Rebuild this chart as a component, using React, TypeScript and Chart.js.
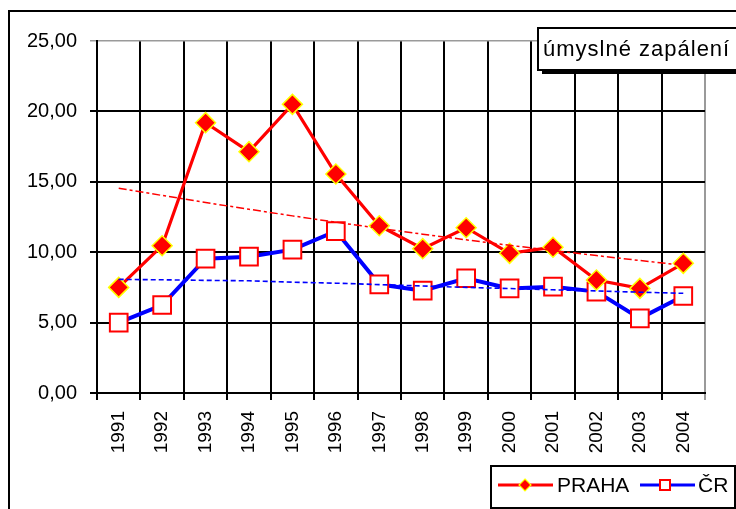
import React, { useEffect, useRef } from 'react';
import { Chart, registerables } from 'chart.js';

Chart.register(...registerables);

const years = ['1991', '1992', '1993', '1994', '1995', '1996', '1997', '1998', '1999', '2000', '2001', '2002', '2003', '2004'];
const prahaValues = [7.5, 10.46, 19.2, 17.14, 20.5, 15.55, 11.88, 10.25, 11.74, 9.92, 10.35, 8.02, 7.43, 9.21];
const crValues = [5.0, 6.25, 9.54, 9.68, 10.18, 11.5, 7.72, 7.27, 8.15, 7.43, 7.55, 7.2, 5.3, 6.89];
const prahaTrend = [14.55, 14.03, 13.53, 13.05, 12.58, 12.13, 11.7, 11.28, 10.88, 10.49, 10.12, 9.76, 9.41, 9.07];
const crTrend = [8.07, 8.04, 8.0, 7.97, 7.87, 7.8, 7.7, 7.6, 7.5, 7.42, 7.33, 7.25, 7.16, 7.08];
const yMin = 0;
const yMax = 25;
const yStep = 5;
const titleText = 'úmyslné zapálení';
const seriesNames = ['PRAHA', 'ČR'];

const FONT = '"Liberation Sans", Arial, sans-serif';

const decorPlugin = {
  id: 'decor',
  afterDraw(chart: any) {
    const ctx = chart.ctx as CanvasRenderingContext2D;
    ctx.save();
    // outer chart border
    ctx.strokeStyle = '#000';
    ctx.lineWidth = 2;
    ctx.strokeRect(9, 11, 800, 600);

    // title box with shadow
    const tx = 538, ty = 28, tw = 210, th = 42;
    ctx.fillStyle = '#000';
    ctx.fillRect(tx + 4, ty + 4, tw, th);
    ctx.fillStyle = '#fff';
    ctx.fillRect(tx, ty, tw, th);
    ctx.lineWidth = 2;
    ctx.strokeStyle = '#000';
    ctx.strokeRect(tx, ty, tw, th);
    ctx.fillStyle = '#000';
    ctx.font = `22px ${FONT}`;
    (ctx as any).letterSpacing = '1px';
    ctx.textBaseline = 'middle';
    ctx.textAlign = 'left';
    ctx.fillText(titleText, 543, ty + th / 2 + 1);
    (ctx as any).letterSpacing = '0px';

    // legend box
    const lx = 491, ly = 466, lw = 244, lh = 42;
    ctx.fillStyle = '#fff';
    ctx.fillRect(lx, ly, lw, lh);
    ctx.lineWidth = 2;
    ctx.strokeStyle = '#000';
    ctx.strokeRect(lx, ly, lw, lh);
    const cy = 485;
    // PRAHA entry
    ctx.strokeStyle = '#ff0000';
    ctx.lineWidth = 3;
    ctx.beginPath();
    ctx.moveTo(498, cy);
    ctx.lineTo(553, cy);
    ctx.stroke();
    ctx.beginPath();
    ctx.moveTo(525, cy - 6);
    ctx.lineTo(531, cy);
    ctx.lineTo(525, cy + 6);
    ctx.lineTo(519, cy);
    ctx.closePath();
    ctx.fillStyle = '#ff0000';
    ctx.fill();
    ctx.strokeStyle = '#ffff00';
    ctx.lineWidth = 1.2;
    ctx.stroke();
    ctx.fillStyle = '#000';
    ctx.font = `21px ${FONT}`;
    ctx.fillText(seriesNames[0], 557, cy + 1);
    // ČR entry
    ctx.strokeStyle = '#0000ff';
    ctx.lineWidth = 3;
    ctx.beginPath();
    ctx.moveTo(640, cy);
    ctx.lineTo(695, cy);
    ctx.stroke();
    ctx.fillStyle = '#fff';
    ctx.fillRect(660, cy - 5, 10, 10);
    ctx.strokeStyle = '#ff0000';
    ctx.lineWidth = 2;
    ctx.strokeRect(660, cy - 5, 10, 10);
    ctx.fillStyle = '#000';
    ctx.fillText(seriesNames[1], 698, cy + 1);
    ctx.restore();
  },
};

export default function App() {
  const ref = useRef<HTMLCanvasElement | null>(null);
  useEffect(() => {
    if (!ref.current) return;
    const chart = new Chart(ref.current, {
      type: 'line',
      data: {
        labels: years,
        datasets: [
          {
            label: 'PRAHA trend',
            data: prahaTrend,
            borderColor: '#ff0000',
            borderWidth: 1.5,
            borderDash: [8, 3, 3, 3],
            pointRadius: 0,
            tension: 0,
            order: 0,
          },
          {
            label: 'ČR trend',
            data: crTrend,
            borderColor: '#0000ff',
            borderWidth: 1.6,
            borderDash: [5, 3],
            pointRadius: 0,
            tension: 0,
            order: 0,
          },
          {
            label: seriesNames[0],
            data: prahaValues,
            borderColor: '#ff0000',
            borderWidth: 3.2,
            pointStyle: 'rectRot',
            pointRadius: 10,
            pointBackgroundColor: '#ff0000',
            pointBorderColor: '#ffff00',
            pointBorderWidth: 1.5,
            tension: 0,
            order: 1,
          },
          {
            label: seriesNames[1],
            data: crValues,
            borderColor: '#0000ff',
            borderWidth: 4,
            pointStyle: 'rect',
            pointRadius: 12.5,
            pointBackgroundColor: '#ffffff',
            pointBorderColor: '#ff0000',
            pointBorderWidth: 2,
            tension: 0,
            order: 2,
          },
        ],
      } as any,
      options: {
        animation: false,
        responsive: false,
        maintainAspectRatio: false,
        layout: { padding: { left: 0, right: 31, top: 41, bottom: 0 } },
        plugins: {
          legend: { display: false },
          tooltip: { enabled: false },
          title: { display: false },
        },
        scales: {
          x: {
            offset: true,
            grid: {
              offset: true,
              color: (c: any) => (c.index === undefined || c.index >= years.length ? '#9a9a9a' : '#000'),
              lineWidth: 2,
              tickLength: 7,
            },
            border: { color: '#000', width: 2 },
            ticks: {
              autoSkip: false,
              maxRotation: 90,
              minRotation: 90,
              padding: 11,
              color: '#000',
              font: { family: FONT, size: 19 },
            },
            afterFit: (s: any) => {
              s.height = 116;
            },
          },
          y: {
            min: yMin,
            max: yMax,
            grid: {
              color: (c: any) => (c.tick && c.tick.value === yMax ? '#9a9a9a' : '#000'),
              lineWidth: (c: any) => (c.tick && c.tick.value === yMax ? 1.5 : 2),
              tickLength: 7,
            },
            border: { color: '#000', width: 2 },
            ticks: {
              stepSize: yStep,
              padding: 13,
              color: '#000',
              font: { family: FONT, size: 20 },
              callback: (v: any) => Number(v).toFixed(2).replace('.', ','),
            },
            afterFit: (s: any) => {
              s.width = 97;
            },
          },
        },
      } as any,
      plugins: [decorPlugin],
    });
    return () => chart.destroy();
  }, []);
  return (
    <div style={{ position: 'absolute', left: 0, top: 0, width: 736, height: 509, background: '#fff' }}>
      <canvas ref={ref} width={736} height={509} style={{ display: 'block', width: 736, height: 509 }} />
    </div>
  );
}
